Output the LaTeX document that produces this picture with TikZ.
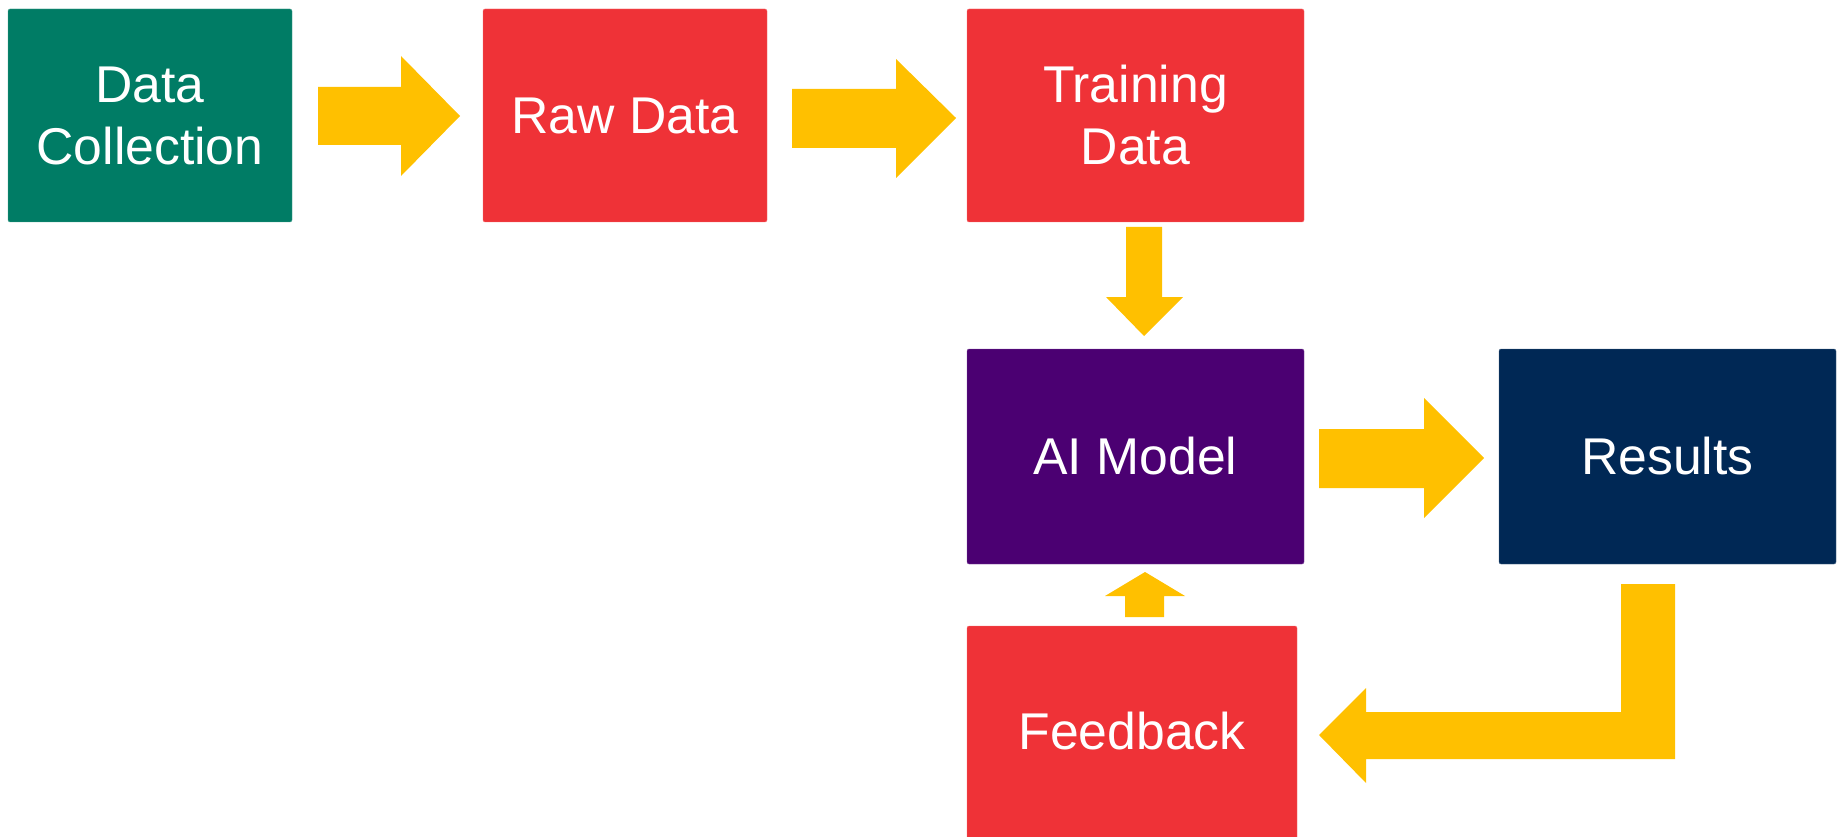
\documentclass[tikz,border=0pt]{standalone}
\usepackage{fontspec}
\setmainfont{Liberation Sans}
\definecolor{dcgreen}{HTML}{007C65}
\definecolor{boxred}{HTML}{EF3237}
\definecolor{modelpurple}{HTML}{4B0072}
\definecolor{resnavy}{HTML}{002855}
\definecolor{flowyellow}{HTML}{FFC000}
\tikzset{
  block/.style={rectangle, rounded corners=2pt, inner sep=0pt, text=white,
    align=center, font=\fontsize{51.7pt}{62pt}\selectfont},
  flow/.style={fill=flowyellow, draw=none}
}
\begin{document}
\begin{tikzpicture}[x=1pt, y=-1pt]
\useasboundingbox (0,0) rectangle (1839,837);
\begin{scope}
\clip (0,0) rectangle (1839,837);
% process boxes (x from left, y from top)
\node[block, fill=dcgreen, draw=dcgreen!70!white, minimum width=284pt, minimum height=213pt] (dc) at (150,115.5) {Data\\Collection};
\node[block, fill=boxred, draw=boxred!70!white, minimum width=284pt, minimum height=213pt] (raw) at (625,115.5) {Raw Data};
\node[block, fill=boxred, draw=boxred!70!white, minimum width=337pt, minimum height=213pt] (train) at (1135.5,115.5) {Training\\Data};
\node[block, fill=modelpurple, draw=modelpurple!70!white, minimum width=337pt, minimum height=215pt] (model) at (1135.5,456.5) {AI Model};
\node[block, fill=resnavy, draw=resnavy!70!white, minimum width=337pt, minimum height=215pt] (res) at (1667.5,456.5) {Results};
\node[block, fill=boxred, draw=boxred!70!white, minimum width=330pt, minimum height=222pt] (fb) at (1132,737) {};
\node[block] (fbtext) at (1132,731.5) {Feedback};
\end{scope}
% block arrows between the boxes
\fill[flow] (318,87) -- (401,87) -- (401,56) -- (460,116) -- (401,176) -- (401,145) -- (318,145) -- cycle;
\fill[flow] (792,89) -- (896,89) -- (896,59) -- (956,118) -- (896,178) -- (896,148) -- (792,148) -- cycle;
\fill[flow] (1126,227) -- (1162,227) -- (1162,297) -- (1183,297) -- (1144,336) -- (1106,297) -- (1126,297) -- cycle;
\fill[flow] (1319,429) -- (1424,429) -- (1424,398) -- (1484,458) -- (1424,518) -- (1424,488) -- (1319,488) -- cycle;
\fill[flow] (1125,617) -- (1164,617) -- (1164,596) -- (1185,596) -- (1145,572) -- (1105,596) -- (1125,596) -- cycle;
% return path from the results back to feedback
\fill[flow] (1621,584) -- (1675,584) -- (1675,759) -- (1366,759) -- (1366,783) -- (1319,735) -- (1366,688) -- (1366,712) -- (1621,712) -- cycle;
\end{tikzpicture}
\end{document}
